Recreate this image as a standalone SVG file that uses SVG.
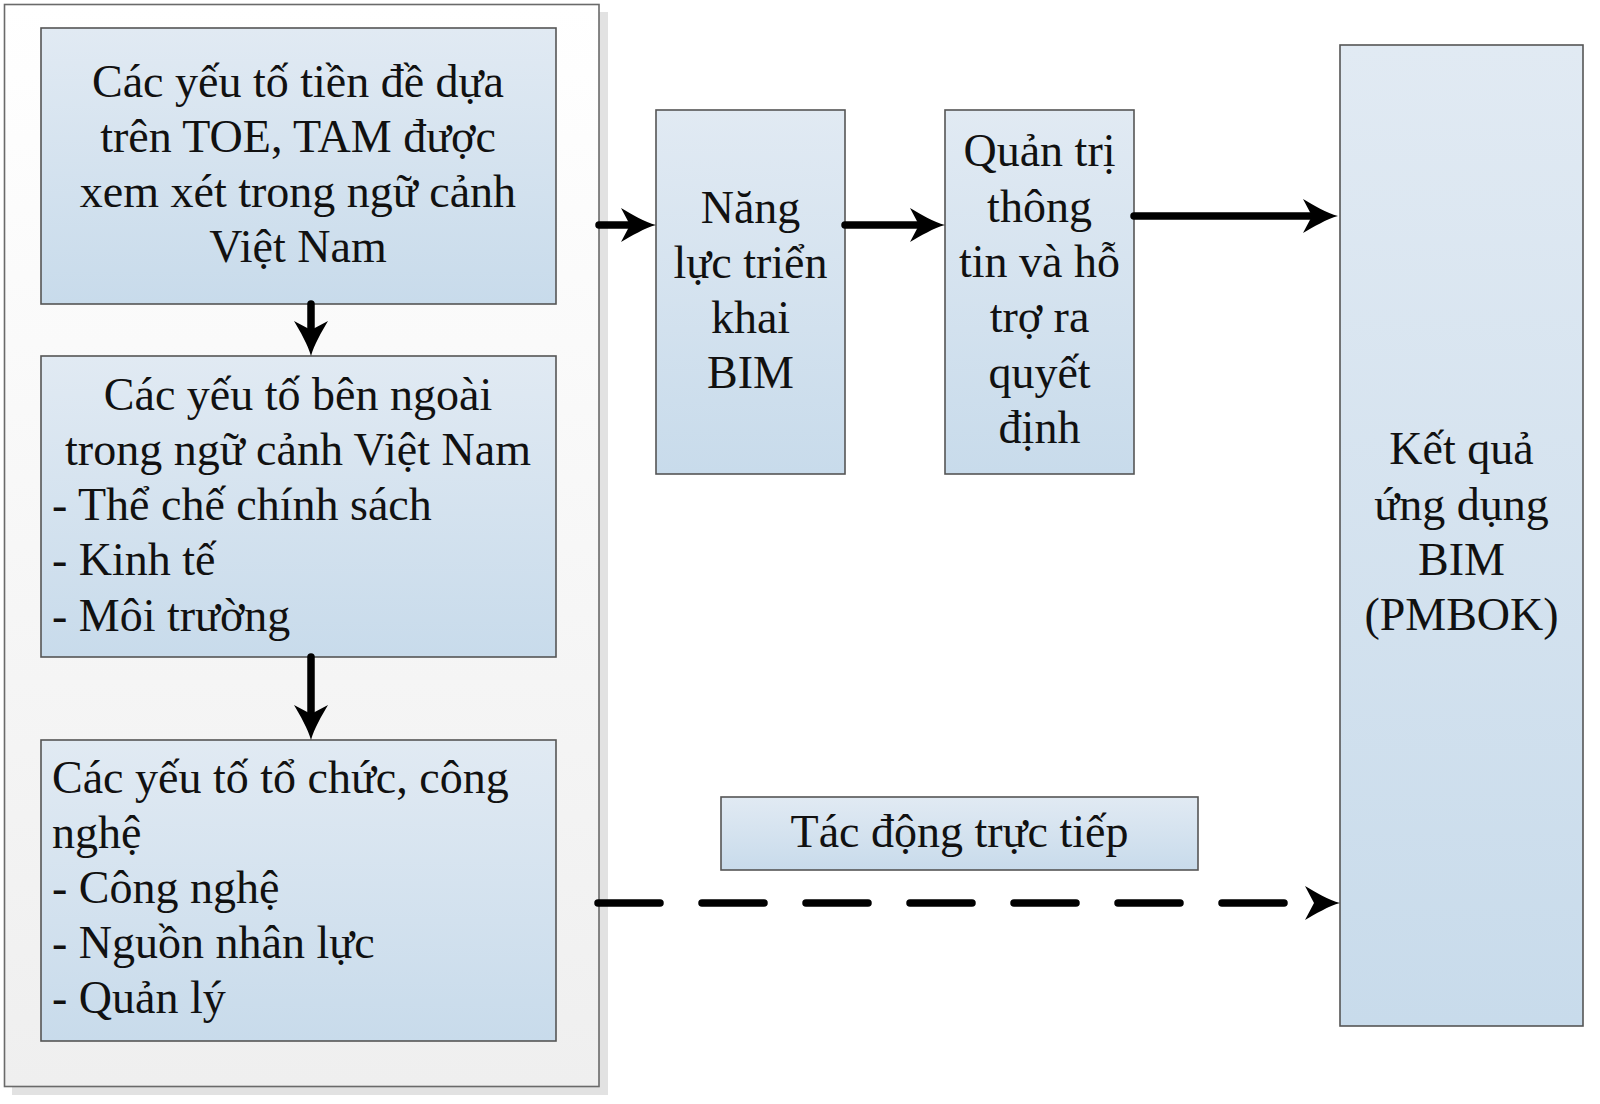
<svg xmlns="http://www.w3.org/2000/svg" width="1600" height="1104" viewBox="0 0 1600 1104">
<defs>
<linearGradient id="boxGrad" x1="0" y1="0" x2="0" y2="1">
<stop offset="0" stop-color="#e1eaf3"/>
<stop offset="1" stop-color="#c8dbeb"/>
</linearGradient>
<linearGradient id="contGrad" x1="0" y1="0" x2="0" y2="1">
<stop offset="0" stop-color="#ffffff"/>
<stop offset="1" stop-color="#efefef"/>
</linearGradient>
<marker id="arrow" markerUnits="userSpaceOnUse" markerWidth="36" markerHeight="36" viewBox="0 0 36 36" refX="9" refY="18" orient="auto">
<path d="M36,18 C25,15 11,7 1,1 L10,18 L1,35 C11,29 25,21 36,18 Z" fill="#000"/>
</marker>
<style>
.box{fill:url(#boxGrad);stroke:#555;stroke-width:1.6}
.txt{font-family:"Liberation Serif","Times New Roman",serif;font-size:46px;fill:#111}
.c{text-anchor:middle}
.conn{stroke:#000;stroke-width:7.5;stroke-linecap:round;fill:none}
</style>
</defs>
<rect width="1600" height="1104" fill="#ffffff"/>
<g id="container">
<rect x="12" y="12" width="596" height="1083" fill="#e2e2e2"/>
<rect x="4.5" y="4.5" width="594.5" height="1082" fill="url(#contGrad)" stroke="#6a6a6a" stroke-width="1.6"/>
</g>
<g id="node-tien-de">
<rect class="box" x="41" y="28" width="515" height="276"/>
<text class="txt c" x="298" y="97">Các yếu tố tiền đề dựa</text>
<text class="txt c" x="298" y="152">trên TOE, TAM được</text>
<text class="txt c" x="298" y="207">xem xét trong ngữ cảnh</text>
<text class="txt c" x="298" y="262">Việt Nam</text>
</g>
<g id="node-ben-ngoai">
<rect class="box" x="41" y="356" width="515" height="301"/>
<text class="txt c" x="298" y="410">Các yếu tố bên ngoài</text>
<text class="txt c" x="298" y="465">trong ngữ cảnh Việt Nam</text>
<text class="txt" x="52" y="520">- Thể chế chính sách</text>
<text class="txt" x="52" y="575">- Kinh tế</text>
<text class="txt" x="52" y="631">- Môi trường</text>
</g>
<g id="node-to-chuc">
<rect class="box" x="41" y="740" width="515" height="301"/>
<text class="txt" x="52" y="793">Các yếu tố tổ chức, công</text>
<text class="txt" x="52" y="848">nghệ</text>
<text class="txt" x="52" y="903">- Công nghệ</text>
<text class="txt" x="52" y="958">- Nguồn nhân lực</text>
<text class="txt" x="52" y="1013">- Quản lý</text>
</g>
<g id="node-nang-luc">
<rect class="box" x="656" y="110" width="189" height="364"/>
<text class="txt c" x="750.5" y="223">Năng</text>
<text class="txt c" x="750.5" y="278">lực triển</text>
<text class="txt c" x="750.5" y="333">khai</text>
<text class="txt c" x="750.5" y="388">BIM</text>
</g>
<g id="node-quan-tri">
<rect class="box" x="945" y="110" width="189" height="364"/>
<text class="txt c" x="1039.5" y="166">Quản trị</text>
<text class="txt c" x="1039.5" y="222">thông</text>
<text class="txt c" x="1039.5" y="277">tin và hỗ</text>
<text class="txt c" x="1039.5" y="332">trợ ra</text>
<text class="txt c" x="1039.5" y="388">quyết</text>
<text class="txt c" x="1039.5" y="443">định</text>
</g>
<g id="node-ket-qua">
<rect class="box" x="1340" y="45" width="243" height="981"/>
<text class="txt c" x="1461.5" y="464">Kết quả</text>
<text class="txt c" x="1461.5" y="520">ứng dụng</text>
<text class="txt c" x="1461.5" y="575">BIM</text>
<text class="txt c" x="1461.5" y="630">(PMBOK)</text>
</g>
<g id="node-tac-dong">
<rect class="box" x="721" y="797" width="477" height="73"/>
<text class="txt c" x="959.5" y="847">Tác động trực tiếp</text>
</g>
<g id="connectors">
<line class="conn" x1="599" y1="225" x2="629" y2="225" marker-end="url(#arrow)"/>
<line class="conn" x1="845" y1="225" x2="918" y2="225" marker-end="url(#arrow)"/>
<line class="conn" x1="1134" y1="216" x2="1311" y2="216" marker-end="url(#arrow)"/>
<line class="conn" x1="311" y1="304" x2="311" y2="329" marker-end="url(#arrow)"/>
<line class="conn" x1="311" y1="657" x2="311" y2="713" marker-end="url(#arrow)"/>
<line class="conn" x1="598" y1="903" x2="1313" y2="903" stroke-dasharray="62 42" marker-end="url(#arrow)"/>
</g>
</svg>
